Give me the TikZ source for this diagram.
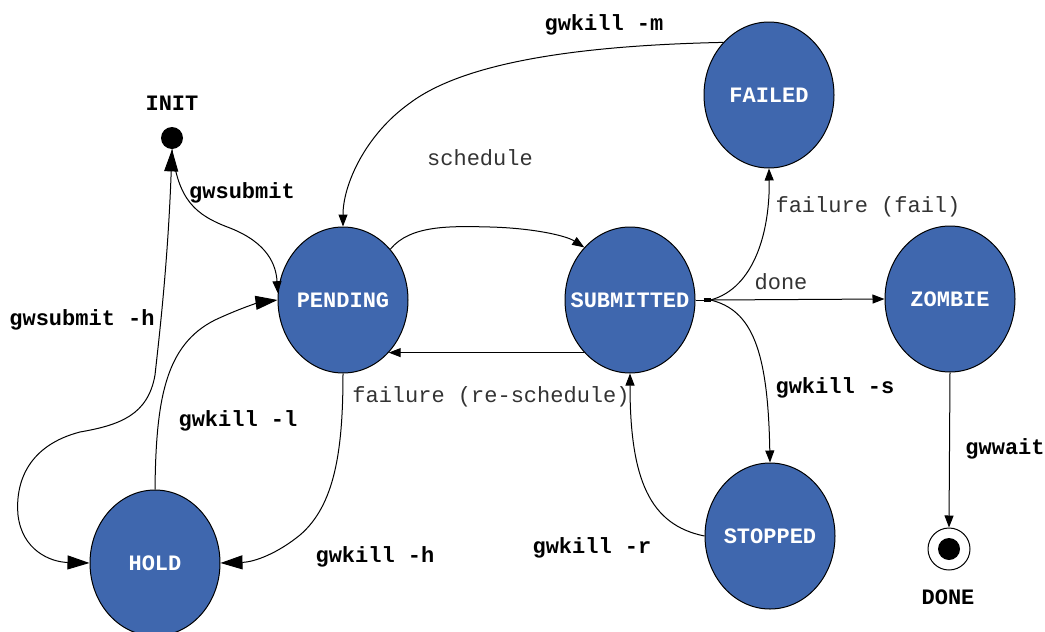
\documentclass[tikz,border=0pt]{standalone}
\usepackage{fontspec}
\setmonofont{Liberation Mono}
\usepackage{tikz}
\usetikzlibrary{positioning,calc,shapes,arrows.meta}
\definecolor{stateblue}{RGB}{63,103,174}

\begin{document}
\begin{tikzpicture}[x=0.5pt, y=-0.5pt,
    jobstate/.style={ellipse, draw=black, line width=0.5pt, fill=stateblue,
        minimum width=65pt, minimum height=73pt, inner xsep=-10pt, inner ysep=0pt, text=white,
        font=\ttfamily\bfseries\fontsize{11}{13}\selectfont},
    cmd/.style={inner sep=0pt, font=\ttfamily\bfseries\fontsize{11}{13}\selectfont},
    evt/.style={inner sep=0pt, text=black!80, font=\ttfamily\fontsize{11}{13}\selectfont},
    smalltip/.tip={Triangle[length=6pt,width=4.5pt]},
    bigtip/.tip={Triangle[length=11pt,width=7pt]},
    trans/.style={line width=0.5pt, -smalltip},
    bigtrans/.style={line width=0.5pt, -bigtip}]
    % 画布尺寸
    \useasboundingbox (0,0) rectangle (1045,632);

    % 状态
    \node[jobstate] (pend) at (343,300) {PENDING};
    \node[jobstate] (sub)  at (630,300) {SUBMITTED};
    \node[jobstate] (fail) at (769,95)  {FAILED};
    \node[jobstate] (zomb) at (950,299) {ZOMBIE};
    \node[jobstate] (stop) at (770,536) {STOPPED};
    \node[jobstate] (hold) at (155,563) {HOLD};

    % 初始和结束状态
    \node[circle, fill=black, minimum size=11pt, inner sep=0pt] (init) at (172,138) {};
    \node[cmd] (initlbl) at (172,103) {INIT};
    \node[circle, draw=black, fill=white, line width=0.5pt, minimum size=21pt, inner sep=0pt] (done) at (949,549) {};
    \fill[black] (done.center) circle (5.5pt);
    \node[cmd] (donelbl) at (948,597) {DONE};

    % SUBMITTED 右侧的出发点
    \coordinate (subout) at ($(sub.east)+(15,0)$);
    \draw[line width=0.5pt] (sub.east) -- (subout);
    \draw[line width=1.6pt] ($(sub.east)+(8,0)$) -- (subout);

    % INIT 出发的转移
    \draw[line width=0.5pt, bigtip-bigtip] (init.south) .. controls (168,260) and (160,330) .. (155,375)
        .. controls (148,415) and (120,425) .. (80,432)
        .. controls (30,445) and (15,480) .. (18,515)
        .. controls (22,550) and (50,562) .. (hold.west);
    \draw[trans] (init.south) .. controls (178,200) and (195,215) .. (230,228)
        .. controls (268,243) and (276,265) .. (pend.174);

    % HOLD 和 PENDING 之间
    \draw[bigtrans] (hold.north) .. controls (156,400) and (165,345) .. (215,320)
        .. controls (245,306) and (262,302) .. (pend.west);
    \draw[bigtrans] (pend.south) .. controls (343,450) and (335,505) .. (300,535)
        .. controls (278,553) and (255,562) .. (hold.east);

    % 其余转移
    \draw[trans] (fail.131) .. controls (600,45) and (470,58) .. (410,103)
        .. controls (365,135) and (343,185) .. (pend.north);
    \draw[trans] (pend.47) .. controls (410,225) and (450,226) .. (490,227)
        .. controls (530,228) and (565,235) .. (sub.131);
    \draw[trans] (sub.-131) -- (pend.-49);
    \draw[trans] (subout) .. controls (755,288) and (770,230) .. (fail.south);
    \draw[trans] (subout) -- (zomb.west);
    \draw[trans] (subout) .. controls (752,310) and (768,350) .. (stop.north);
    \draw[trans] (stop.west) .. controls (650,525) and (630,480) .. (sub.south);
    \draw[trans] (zomb.south) -- (done.north);

    % 标注
    \node[cmd] (lblm)     at (604,25)  {gwkill -m};
    \node[evt] (lblsched) at (480,158) {schedule};
    \node[cmd] (lblsub)   at (242,193) {gwsubmit};
    \node[cmd] (lblsubh)  at (82,320)  {gwsubmit -h};
    \node[evt] (lblfail)  at (868,207) {failure (fail)};
    \node[evt] (lbldone)  at (781,282) {done};
    \node[cmd] (lbls)     at (835,388) {gwkill -s};
    \node[evt] (lblresch) at (491,397) {failure (re-schedule)};
    \node[cmd] (lbll)     at (238,421) {gwkill -l};
    \node[cmd] (lblh)     at (375,557) {gwkill -h};
    \node[cmd] (lblr)     at (592,548) {gwkill -r};
    \node[cmd] (lblwait)  at (1005,449) {gwwait};
\end{tikzpicture}
\end{document}
